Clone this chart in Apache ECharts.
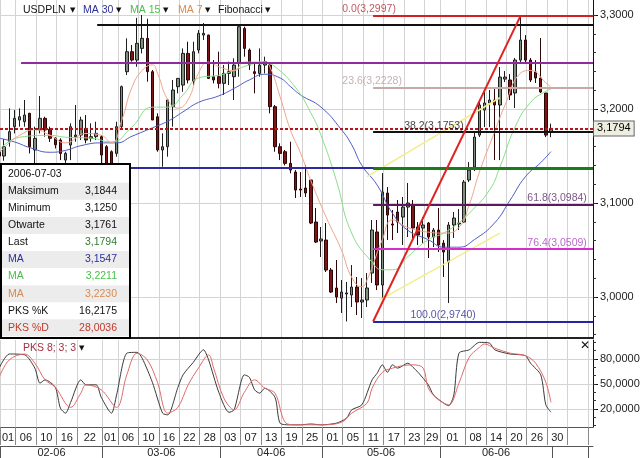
<!DOCTYPE html>
<html>
<head>
<meta charset="utf-8">
<script src="https://cdn.jsdelivr.net/npm/echarts@6.0.0/dist/echarts.min.js"></script>
<style>
html,body{margin:0;padding:0;background:#ffffff;}
#chart{width:640px;height:458px;}
</style>
</head>
<body>
<div id="chart"></div>
<script>
// ======================= DATA =======================
// trading-day index 0 = 2006-02-01 ... 108 = 2006-07-03
const opens = [3.155,3.150,3.1652,3.1812,3.1883,3.1865,3.1954,3.1564,3.1777,3.1901,
3.1784,3.1688,3.1670,3.1457,3.1617,3.1706,3.1723,3.1794,3.1688,3.1706,
3.1706,3.1599,3.1546,3.1528,3.1812,3.2397,3.2610,3.2521,3.2645,3.2752,
3.2397,3.1918,3.1564,3.1599,3.2025,3.2238,3.2255,3.2592,3.2291,3.2628,
3.2787,3.2787,3.2344,3.2344,3.2273,3.2379,3.2344,3.2486,3.2858,3.2628,
3.2397,3.2379,3.2468,3.2468,3.2025,3.1599,3.1546,3.1422,3.1330,3.1149,
3.1160,3.1245,3.0798,3.0596,3.0606,3.0287,3.0096,2.9989,3.0032,3.0021,
3.0106,2.9947,2.9968,3.0255,3.0692,3.0128,3.1106,3.0777,3.0904,3.0851,
3.0957,3.0979,3.0745,3.0734,3.0787,3.0638,3.0713,3.0574,3.0372,3.0766,
3.0777,3.0798,3.1245,3.1383,3.1723,3.1989,3.2064,3.2096,3.2043,3.2319,
3.2309,3.2170,3.2521,3.2734,3.2521,3.2394,3.2330,3.2170,3.1761];
const closes = [3.150,3.160,3.1759,3.1901,3.1918,3.1936,3.1599,3.1688,3.1901,3.1777,
3.1688,3.1620,3.1528,3.1528,3.1812,3.1723,3.1883,3.1670,3.1706,3.1741,
3.1511,3.1422,3.1400,3.1812,3.2238,3.2610,3.2521,3.2699,3.2752,3.2397,
3.1883,3.1564,3.1599,3.2096,3.2202,3.2326,3.2592,3.2309,3.2610,3.2805,
3.2805,3.2326,3.2309,3.2273,3.2379,3.2397,3.2468,3.2876,3.2645,3.2468,
3.2379,3.2468,3.2504,3.2025,3.1599,3.1528,3.1422,3.1351,3.1138,3.1138,
3.1106,3.0787,3.0585,3.0617,3.0287,3.0053,3.0000,3.0053,3.0043,3.0106,
2.9947,2.9968,3.0096,3.0713,3.0128,3.1117,3.0872,3.0766,3.0798,3.0957,
3.1000,3.0734,3.0660,3.0766,3.0638,3.0713,3.0553,3.0479,3.0766,3.0840,
3.0787,3.1223,3.1351,3.1702,3.2043,3.2064,3.2096,3.2043,3.2340,3.2340,
3.2149,3.2521,3.2734,3.2521,3.2309,3.2330,3.2181,3.1723,3.1794];
const lows = [3.143,3.145,3.160,3.1741,3.1812,3.1812,3.1528,3.1422,3.1741,3.1706,
3.1650,3.1580,3.1457,3.1400,3.1457,3.1652,3.1670,3.1635,3.1652,3.1670,
3.1422,3.1380,3.1350,3.1493,3.1794,3.2362,3.2504,3.2450,3.2592,3.2291,
3.1883,3.1546,3.1386,3.1493,3.1812,3.2167,3.2184,3.2273,3.2255,3.2592,
3.2734,3.2320,3.2273,3.2220,3.2149,3.2255,3.2096,3.2344,3.2557,3.2415,
3.2167,3.2344,3.2379,3.1954,3.1546,3.1457,3.1400,3.1316,3.1053,3.1064,
3.1064,3.0776,3.0574,3.0426,3.0266,3.0043,2.9936,2.9830,2.9740,2.9894,
2.9809,2.9777,2.9894,3.0150,3.0074,2.9989,3.0606,3.0606,3.0681,3.0553,
3.0638,3.0606,3.0553,3.0574,3.0415,3.0532,3.0479,3.0213,2.9936,3.0628,
3.0713,3.0787,3.1223,3.1340,3.1702,3.1808,3.1808,3.1457,3.1457,3.2287,
3.2096,3.2011,3.2500,3.2489,3.2287,3.2277,3.2170,3.1702,3.1700];
const highs = [3.165,3.168,3.2007,3.1989,3.2007,3.2096,3.1960,3.1812,3.2138,3.1918,
3.1812,3.1700,3.1688,3.1546,3.1848,3.2043,3.1918,3.1936,3.1848,3.1865,
3.1723,3.1617,3.1560,3.1865,3.2250,3.2752,3.2681,3.2970,3.3000,3.2960,
3.2415,3.1954,3.1741,3.2100,3.2309,3.2330,3.2645,3.2716,3.2716,3.2840,
3.2915,3.2790,3.2521,3.2610,3.2468,3.2504,3.2539,3.2890,3.2876,3.2645,
3.2486,3.2645,3.2557,3.2486,3.2043,3.1635,3.1564,3.1652,3.1351,3.1330,
3.1404,3.1245,3.0947,3.0745,3.0787,3.0309,3.0394,3.0181,3.0160,3.0340,
3.0213,3.0202,3.0255,3.0819,3.0819,3.1319,3.1170,3.0926,3.1032,3.1064,
3.1213,3.1032,3.0798,3.0851,3.0798,3.0734,3.0947,3.0606,3.0798,3.0904,
3.0936,3.1245,3.1436,3.1745,3.2096,3.2223,3.2202,3.2223,3.2447,3.2404,
3.2372,3.2543,3.2997,3.2787,3.2543,3.2521,3.2755,3.2170,3.1844];

// moving averages, read as [trading-day index, value]
const ma30 = [[0,3.169],[3,3.165],[6,3.159],[10,3.154],[13,3.156],[16,3.161],[20,3.164],[23,3.164],[26,3.171],[30,3.180],[33,3.187],[36,3.197],[39,3.207],[43,3.214],[46,3.222],[49,3.231],[52,3.237],[55,3.233],[57,3.224],[59,3.215],[63,3.202],[67,3.178],[69,3.162],[71,3.140],[74,3.119],[77,3.089],[80,3.071],[84,3.061],[87,3.053],[90,3.053],[93,3.061],[97,3.079],[100,3.103],[103,3.128],[106,3.143],[108,3.1547]];
const ma15 = [[0,3.156],[4,3.170],[10,3.172],[13,3.170],[18,3.169],[22,3.165],[26,3.181],[30,3.202],[33,3.202],[36,3.215],[39,3.233],[43,3.236],[46,3.241],[49,3.247],[52,3.250],[54,3.245],[58,3.223],[61,3.196],[63,3.172],[66,3.124],[69,3.068],[73,3.037],[75,3.029],[77,3.029],[80,3.043],[84,3.061],[87,3.068],[90,3.079],[92,3.089],[96,3.114],[98,3.138],[101,3.181],[104,3.207],[107,3.219],[108,3.2211]];
const ma7 = [[0,3.153],[2,3.164],[4,3.172],[7,3.178],[10,3.172],[13,3.164],[17,3.174],[20,3.172],[22,3.164],[24,3.188],[26,3.223],[28,3.241],[30,3.247],[31,3.238],[33,3.210],[35,3.201],[37,3.210],[39,3.238],[41,3.250],[43,3.245],[46,3.241],[48,3.250],[52,3.250],[53,3.245],[55,3.213],[57,3.178],[59,3.153],[61,3.124],[64,3.085],[67,3.050],[69,3.021],[71,3.011],[72,3.018],[75,3.061],[77,3.082],[80,3.074],[84,3.069],[87,3.068],[90,3.074],[92,3.098],[94,3.133],[97,3.176],[99,3.204],[102,3.238],[104,3.241],[107,3.228],[108,3.223]];

// stochastic oscillator PKS 8;3;3
const pksK = [[0,69],[2,86],[5,85],[7,69],[8,51],[9,55],[11,46],[12,21],[13,15],[14,28],[16,55],[17,49],[19,49],[20,34],[22,15],[23,37],[25,87],[27,88],[28,81],[30,52],[32,15],[33,13],[35,46],[36,61],[38,76],[40,91],[41,79],[43,40],[45,16],[46,19],[48,61],[49,58],[50,43],[51,39],[52,45],[54,34],[55,3],[57,1],[59,1],[61,2],[63,1],[66,3],[68,9],[69,19],[71,25],[73,55],[74,63],[75,73],[76,64],[77,73],[78,69],[80,75],[81,70],[82,64],[84,49],[85,37],[87,27],[88,24],[89,37],[90,87],[92,91],[94,100],[96,99],[97,91],[100,86],[103,84],[104,75],[106,61],[107,25],[108,16.2175]];
const pksD = [[0,58],[2,79],[5,86],[7,75],[9,55],[11,46],[14,22],[16,39],[17,49],[20,43],[23,22],[25,61],[27,87],[29,79],[31,52],[33,15],[35,22],[37,49],[39,69],[41,85],[42,69],[44,33],[46,19],[48,40],[50,55],[52,45],[54,39],[56,4],[58,1],[63,1],[67,4],[69,15],[72,27],[73,45],[75,64],[77,69],[79,72],[81,73],[83,69],[84,45],[86,31],[88,25],[90,51],[92,82],[94,94],[95,98],[97,93],[100,87],[103,84],[105,75],[107,52],[108,28.0036]];

// x axis (trading-day index where each label cell starts)
const dayBounds = [0,3,7,11,15,20,23,27,31,35,39,43,47,51,55,59,63,67,71,75,79,83,86,91,95,99,103,107,111,115];
const dayLabels = ['01','06','10','16','22','01','06','10','16','22','28','03','07','13','19','25','01','05','11','17','23','29','01','08','14','20','26','30',''];
const monthBounds = [0,20,43,63,86,108,115];
const monthLabels = ['02-06','03-06','04-06','05-06','06-06',''];
const priceTicks = [3.0,3.1,3.2,3.3];
const oscTicks = [20,50,80];

// drawn objects
const fibPcts = [0.0,23.6,38.2,50.0,61.8,76.4,100.0];
const fibValues = [3.2997,3.2228,3.1753,3.1369,3.0984,3.0509,2.9740];
const fibStartIdx = 73.2, fibEndIdx = 102.1;
const lastPrice = 3.1794;
const userLevels = [3.2894, 3.2493, 3.1370];
const userLevelStart = [19.2, 4.3, 0.2];
const trendLines = [[[72,3.128],[98,3.212]],[[74.5,2.997],[98,3.068]]];

const infoDate = '2006-07-03';
const infoLabels = ['Maksimum','Minimum','Otwarte','Last','MA','MA','MA','PKS %K','PKS %D'];
const infoValues = ['3,1844','3,1250','3,1761','3,1794','3,1547','3,2211','3,2230','16,2175','28,0036'];

// ======================= CHART =======================
const X_MIN = 0.18, X_MAX = 116.23, SHIFT = 0.25;
const Y_MIN = 2.9564, Y_MAX = 3.316;
const P_MIN = -1.6, P_MAX = 102.8;
const FONT = '"Liberation Sans", Arial, sans-serif';
const GRID = '#d3d3d3';

const comma = (v, d) => Number(v).toFixed(d).replace('.', ',');

const candleData = opens.map((o, i) => [i, o, closes[i], lows[i], highs[i]]);

const dayCuts = dayBounds.map(b => b + SHIFT);
const dayCenters = [], dayMap = {};
for (let k = 0; k < dayLabels.length; k++) {
  const c = (dayCuts[k] + dayCuts[k + 1]) / 2;
  dayCenters.push(c); dayMap[c.toFixed(3)] = dayLabels[k];
}
const monthCuts = monthBounds.map(b => b + SHIFT);
const monthCenters = [], monthMap = {};
for (let k = 0; k < monthLabels.length; k++) {
  const c = (monthCuts[k] + monthCuts[k + 1]) / 2;
  monthCenters.push(c); monthMap[c.toFixed(3)] = monthLabels[k];
}
const minorPrice = [];
for (let v = 2.96; v <= 3.311; v += 0.02) minorPrice.push(+v.toFixed(3));
const minorOsc = [];
for (let v = 0; v <= 100; v += 10) minorOsc.push(v);

const fibColors = ['#d42020', '#c9a9a6', '#111111', '#1d7a1d', '#5b1a5e', '#d52fc9', '#2424a8'];
const fibLabelColors = ['#b03038', '#b89c9c', '#111111', '#1d7a1d', '#5b2a66', '#a845b8', '#2a2a90'];
const fibWidths = [2, 2, 2, 3, 2, 2, 2];
const fibLabelX = [72.4, 73.0, 85.1, null, 109.2, 109.2, 86.9];
const levelColors = ['#111111', '#8e2c9c', '#2b2b9e'];

const mlData = [];
userLevels.forEach((v, i) => {
  mlData.push([{coord: [userLevelStart[i], v], lineStyle: {color: levelColors[i], width: 2, type: 'solid'}}, {coord: [X_MAX, v]}]);
});
trendLines.forEach(t => {
  mlData.push([{coord: t[0], lineStyle: {color: '#f3ee8c', width: 1.5, type: 'solid'}}, {coord: t[1]}]);
});
fibValues.forEach((v, i) => {
  mlData.push([{coord: [fibStartIdx, v], lineStyle: {color: fibColors[i], width: fibWidths[i], type: 'solid'}}, {coord: [X_MAX, v]}]);
});
mlData.push([{coord: [fibStartIdx, fibValues[6]], lineStyle: {color: '#e02222', width: 2, type: 'solid'}}, {coord: [fibEndIdx, fibValues[0]]}]);
mlData.push([{coord: [X_MIN, lastPrice], lineStyle: {color: '#b8141c', width: 2, type: [3, 2]},
  label: {show: true, position: 'end', distance: 1, formatter: comma(lastPrice, 4), color: '#000', fontSize: 11, fontFamily: FONT,
    backgroundColor: '#eeeee0', borderColor: '#666', borderWidth: 1, padding: [2, 3, 1, 3]}}, {coord: [X_MAX, lastPrice]}]);

const fibLabelData = [];
fibValues.forEach((v, i) => {
  if (fibLabelX[i] == null) return;
  fibLabelData.push({value: [fibLabelX[i], v], label: {formatter: fibPcts[i].toFixed(1) + '(' + comma(v, 4) + ')', color: fibLabelColors[i]}});
});

const xBase = {type: 'value', min: X_MIN, max: X_MAX};

const option = {
  animation: false,
  backgroundColor: '#ffffff',
  textStyle: {fontFamily: FONT},
  grid: [
    {left: 0, top: 0, width: 593, height: 338, outerBoundsMode: 'none', containLabel: false},
    {left: 0, top: 340, width: 593, height: 87, outerBoundsMode: 'none', containLabel: false}
  ],
  xAxis: [
    Object.assign({}, xBase, {gridIndex: 0, position: 'bottom',
      axisLine: {show: true, onZero: false, lineStyle: {color: '#222', width: 2}},
      axisTick: {show: false, customValues: dayCuts},
      axisLabel: {show: false},
      splitLine: {show: true, lineStyle: {color: GRID, width: 1}}}),
    Object.assign({}, xBase, {gridIndex: 1, position: 'bottom',
      axisLine: {show: true, onZero: false, lineStyle: {color: '#555', width: 1}},
      axisTick: {show: true, inside: false, length: 18, customValues: dayCuts, lineStyle: {color: '#8a8a8a'}},
      axisLabel: {show: true, customValues: dayCenters, margin: 5, fontSize: 11, color: '#222', fontFamily: FONT,
        formatter: v => dayMap[Number(v).toFixed(3)] || ''},
      splitLine: {show: true, lineStyle: {color: GRID, width: 1}}}),
    Object.assign({}, xBase, {gridIndex: 1, position: 'bottom', offset: 19,
      axisLine: {show: true, onZero: false, lineStyle: {color: '#555', width: 1}},
      axisTick: {show: true, inside: false, length: 13, customValues: monthCuts, lineStyle: {color: '#555'}},
      axisLabel: {show: true, customValues: monthCenters, margin: 1, fontSize: 11, color: '#222', fontFamily: FONT,
        formatter: v => monthMap[Number(v).toFixed(3)] || ''},
      splitLine: {show: false}})
  ],
  yAxis: [
    {type: 'value', gridIndex: 0, position: 'right', min: Y_MIN, max: Y_MAX,
      axisLine: {show: true, onZero: false, lineStyle: {color: '#111'}},
      axisTick: {show: true, inside: false, length: 5, customValues: priceTicks, lineStyle: {color: '#111'}},
      axisLabel: {show: true, customValues: priceTicks, margin: 7, fontSize: 11, color: '#222', fontFamily: FONT,
        formatter: v => comma(v, 4)},
      splitLine: {show: true, lineStyle: {color: GRID}}},
    {type: 'value', gridIndex: 0, position: 'right', min: Y_MIN, max: Y_MAX,
      axisLine: {show: false},
      axisTick: {show: true, inside: false, length: 3, customValues: minorPrice, lineStyle: {color: '#333'}},
      axisLabel: {show: false}, splitLine: {show: false}},
    {type: 'value', gridIndex: 1, position: 'right', min: P_MIN, max: P_MAX,
      axisLine: {show: true, onZero: false, lineStyle: {color: '#111'}},
      axisTick: {show: true, inside: false, length: 5, customValues: oscTicks, lineStyle: {color: '#111'}},
      axisLabel: {show: true, customValues: oscTicks, margin: 7, fontSize: 11, color: '#222', fontFamily: FONT,
        formatter: v => comma(v, 4)},
      splitLine: {show: true, lineStyle: {color: GRID}}},
    {type: 'value', gridIndex: 1, position: 'right', min: P_MIN, max: P_MAX,
      axisLine: {show: false},
      axisTick: {show: true, inside: false, length: 3, customValues: minorOsc, lineStyle: {color: '#333'}},
      axisLabel: {show: false}, splitLine: {show: false}}
  ],
  series: [
    {type: 'candlestick', name: 'USDPLN', xAxisIndex: 0, yAxisIndex: 0, data: candleData,
      encode: {x: 0, y: [1, 2, 3, 4]}, barWidth: 3, z: 2,
      itemStyle: {color: '#7f8e7f', color0: '#7d1418', borderColor: '#1d1d1d', borderColor0: '#2c0607', borderWidth: 1},
      markLine: {silent: true, symbol: ['none', 'none'], animation: false, z: 4,
        label: {show: false}, emphasis: {disabled: true}, data: mlData}},
    {type: 'line', name: 'MA 30', xAxisIndex: 0, yAxisIndex: 0, data: ma30, smooth: 0.5, showSymbol: false, z: 3,
      lineStyle: {color: '#4c5cc4', width: 1}},
    {type: 'line', name: 'MA 15', xAxisIndex: 0, yAxisIndex: 0, data: ma15, smooth: 0.5, showSymbol: false, z: 3,
      lineStyle: {color: '#86df86', width: 1}},
    {type: 'line', name: 'MA 7', xAxisIndex: 0, yAxisIndex: 0, data: ma7, smooth: 0.5, showSymbol: false, z: 3,
      lineStyle: {color: '#f0a48a', width: 1}},
    {type: 'scatter', name: 'Fibonacci', xAxisIndex: 0, yAxisIndex: 0, data: fibLabelData, symbolSize: 0, z: 6, silent: true,
      label: {show: true, position: 'top', distance: 1, fontSize: 10.5, fontFamily: FONT}},
    {type: 'line', name: 'PKS %K', xAxisIndex: 1, yAxisIndex: 2, data: pksK, smooth: 0.25, showSymbol: false,
      lineStyle: {color: '#3a3a3a', width: 1}},
    {type: 'line', name: 'PKS %D', xAxisIndex: 1, yAxisIndex: 2, data: pksD, smooth: 0.35, showSymbol: false,
      lineStyle: {color: '#e06a6a', width: 1}}
  ]
};

// ---- overlay texts (legend bar, indicator title, info box) ----
const TOP_Z = 200;
const g = [];
const txt = (x, y, text, fill, font) => ({type: 'text', x: x, y: y, z: TOP_Z,
  style: {text: text, fill: fill, font: font, textVerticalAlign: 'middle'}});
const legendItems = [['USDPLN', '#111'], ['MA 30', '#2b2f9a'], ['MA 15', '#48c048'], ['MA 7', '#d98a4e'], ['Fibonacci', '#111']];
const legendX = [23, 83, 130, 178, 218];
const arrowX = [70, 116, 163, 205, 265];
legendItems.forEach((it, i) => {
  g.push(txt(legendX[i], 10, it[0], it[1], '10.5px ' + FONT));
  g.push(txt(arrowX[i], 10, '▼', '#111', '7px "DejaVu Sans", sans-serif'));
});
g.push(txt(23, 348, 'PKS 8; 3; 3', '#a33040', '10.5px ' + FONT));
g.push(txt(79, 348, '▼', '#111', '7px "DejaVu Sans", sans-serif'));
g.push(txt(580, 346, '✕', '#111', 'bold 12px "DejaVu Sans", sans-serif'));

// info box (all children carry their own z so they sit above the plot)
const BX = 0, BY = 164;
g.push({type: 'rect', z: TOP_Z, shape: {x: BX + 1, y: BY, width: 129, height: 174}, style: {fill: '#ffffff', stroke: '#000', lineWidth: 2}});
const rowH = 17.05, row0 = BY + 10.3;
for (let i = 1; i <= 9; i += 2) {
  g.push({type: 'rect', z: TOP_Z + 1, shape: {x: BX + 2, y: row0 + i * rowH - 8.5, width: 127, height: 17}, style: {fill: '#ececec'}});
}
const infoColors = ['#111', '#111', '#111', '#111', '#2b2f9a', '#48c048', '#d98a4e', '#111', '#c0392b'];
const infoValColors = ['#111', '#111', '#111', '#2f7a2f', '#2b2f9a', '#48c048', '#d98a4e', '#111', '#c0392b'];
const IF = '10.5px ' + FONT;
g.push({type: 'text', z: TOP_Z + 2, x: BX + 8, y: row0, style: {text: infoDate, fill: '#111', font: IF, textVerticalAlign: 'middle'}});
infoLabels.forEach((l, i) => {
  const y = row0 + (i + 1) * rowH;
  g.push({type: 'text', z: TOP_Z + 2, x: BX + 8, y: y, style: {text: l, fill: infoColors[i], font: IF, textVerticalAlign: 'middle'}});
  g.push({type: 'text', z: TOP_Z + 2, x: BX + 117, y: y, style: {text: infoValues[i], fill: infoValColors[i], font: IF, textAlign: 'right', textVerticalAlign: 'middle'}});
});
option.graphic = g;

const chart = echarts.init(document.getElementById('chart'), null, {renderer: 'canvas'});
chart.setOption(option);
</script>
</body>
</html>
